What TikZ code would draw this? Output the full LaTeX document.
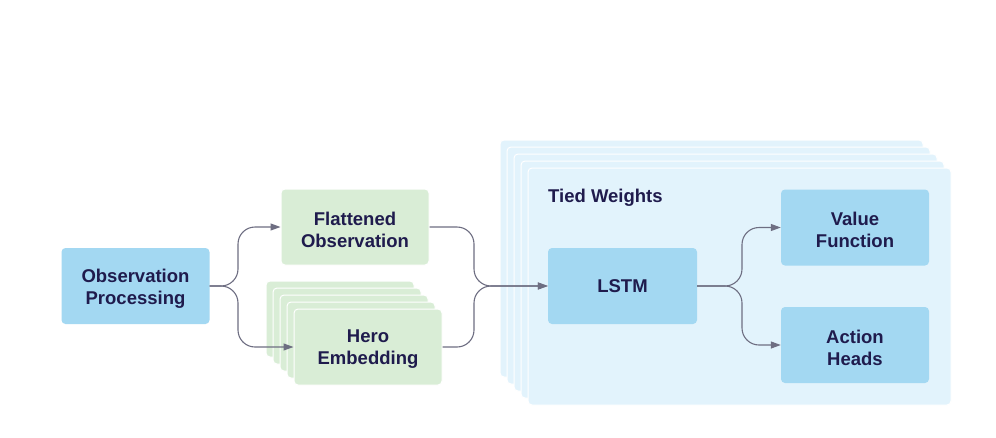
\documentclass[tikz,border=0pt]{standalone}
\usepackage{fontspec}
\setmainfont{Liberation Sans}
\usetikzlibrary{arrows.meta}
\definecolor{txt}{HTML}{1F1B4D}
\definecolor{bluebox}{HTML}{A3D8F2}
\definecolor{greenbox}{HTML}{D9EDD6}
\definecolor{bgbox}{HTML}{E2F3FC}
\definecolor{arrowc}{HTML}{6E6E82}
\tikzset{
  lbl/.style={font=\fontsize{18.5}{22}\selectfont\bfseries, text=txt, align=center, inner sep=0pt},
  bluenode/.style={fill=bluebox, rounded corners=4pt, minimum width=148pt, minimum height=76pt, inner sep=0pt},
  greennode/.style={fill=greenbox, draw=white, line width=1pt, rounded corners=4pt, minimum width=148pt, minimum height=76pt, inner sep=0pt},
  bgnode/.style={fill=bgbox, draw=white, line width=1pt, rounded corners=4pt, minimum width=423pt, minimum height=237pt, inner sep=0pt},
  arr/.style={draw=arrowc, line width=1.1pt, rounded corners=17pt, -{Triangle[length=10pt,width=7pt]}},
}
\begin{document}
\begin{tikzpicture}[x=1pt,y=-1pt]
\fill[white] (0,0) rectangle (996,437);
\useasboundingbox (0,0) rectangle (996,437);
% big stacked container
\node[bgnode] (bg4) at (711.5,258.5) {};
\node[bgnode] (bg3) at (718.5,265.5) {};
\node[bgnode] (bg2) at (725.5,272.5) {};
\node[bgnode] (bg1) at (732.5,279.5) {};
\node[bgnode] (bg0) at (739.5,286.5) {};
\node[lbl, anchor=west] (tied) at (548,198) {Tied Weights};
% boxes
\node[bluenode] (obs) at (135.5,286) {};
\node[greennode] (flat) at (355,227) {};
\node[greennode] (h4) at (340,319) {};
\node[greennode] (h3) at (347,326) {};
\node[greennode] (h2) at (354,333) {};
\node[greennode] (h1) at (361,340) {};
\node[greennode] (hero) at (368,347) {};
\node[bluenode, minimum width=149pt] (lstm) at (622.5,286) {};
\node[bluenode] (val) at (855,227.5) {};
\node[bluenode] (act) at (855,345) {};
% texts
\node[lbl] (obst) at ([yshift=-2.5pt]obs.center) {Observation\\Processing};
\node[lbl] (flatt) at ([yshift=-2.5pt]flat.center) {Flattened\\Observation};
\node[lbl] (herot) at ([yshift=-2.5pt]hero.center) {Hero\\Embedding};
\node[lbl] (lstmt) at ([yshift=-0.5pt]lstm.center) {LSTM};
\node[lbl] (valt) at ([yshift=-2.5pt]val.center) {Value\\Function};
\node[lbl] (actt) at ([yshift=-2.5pt]act.center) {Action\\Heads};
% junctions
\coordinate (j1) at (238,286);
\coordinate (j2) at (474,286);
\coordinate (j3) at (742,286);
% connectors
\draw[arr] (obs.east) -- (j1) |- (flat.west);
\draw[arr] (obs.east) -- (j1) |- (hero.west);
\draw[arr] (flat.east) -| (j2) -- (lstm.west);
\draw[arr] (hero.east) -| (j2) -- (lstm.west);
\draw[arr] (lstm.east) -- (j3) |- (val.west);
\draw[arr] (lstm.east) -- (j3) |- (act.west);
\end{tikzpicture}
\end{document}
